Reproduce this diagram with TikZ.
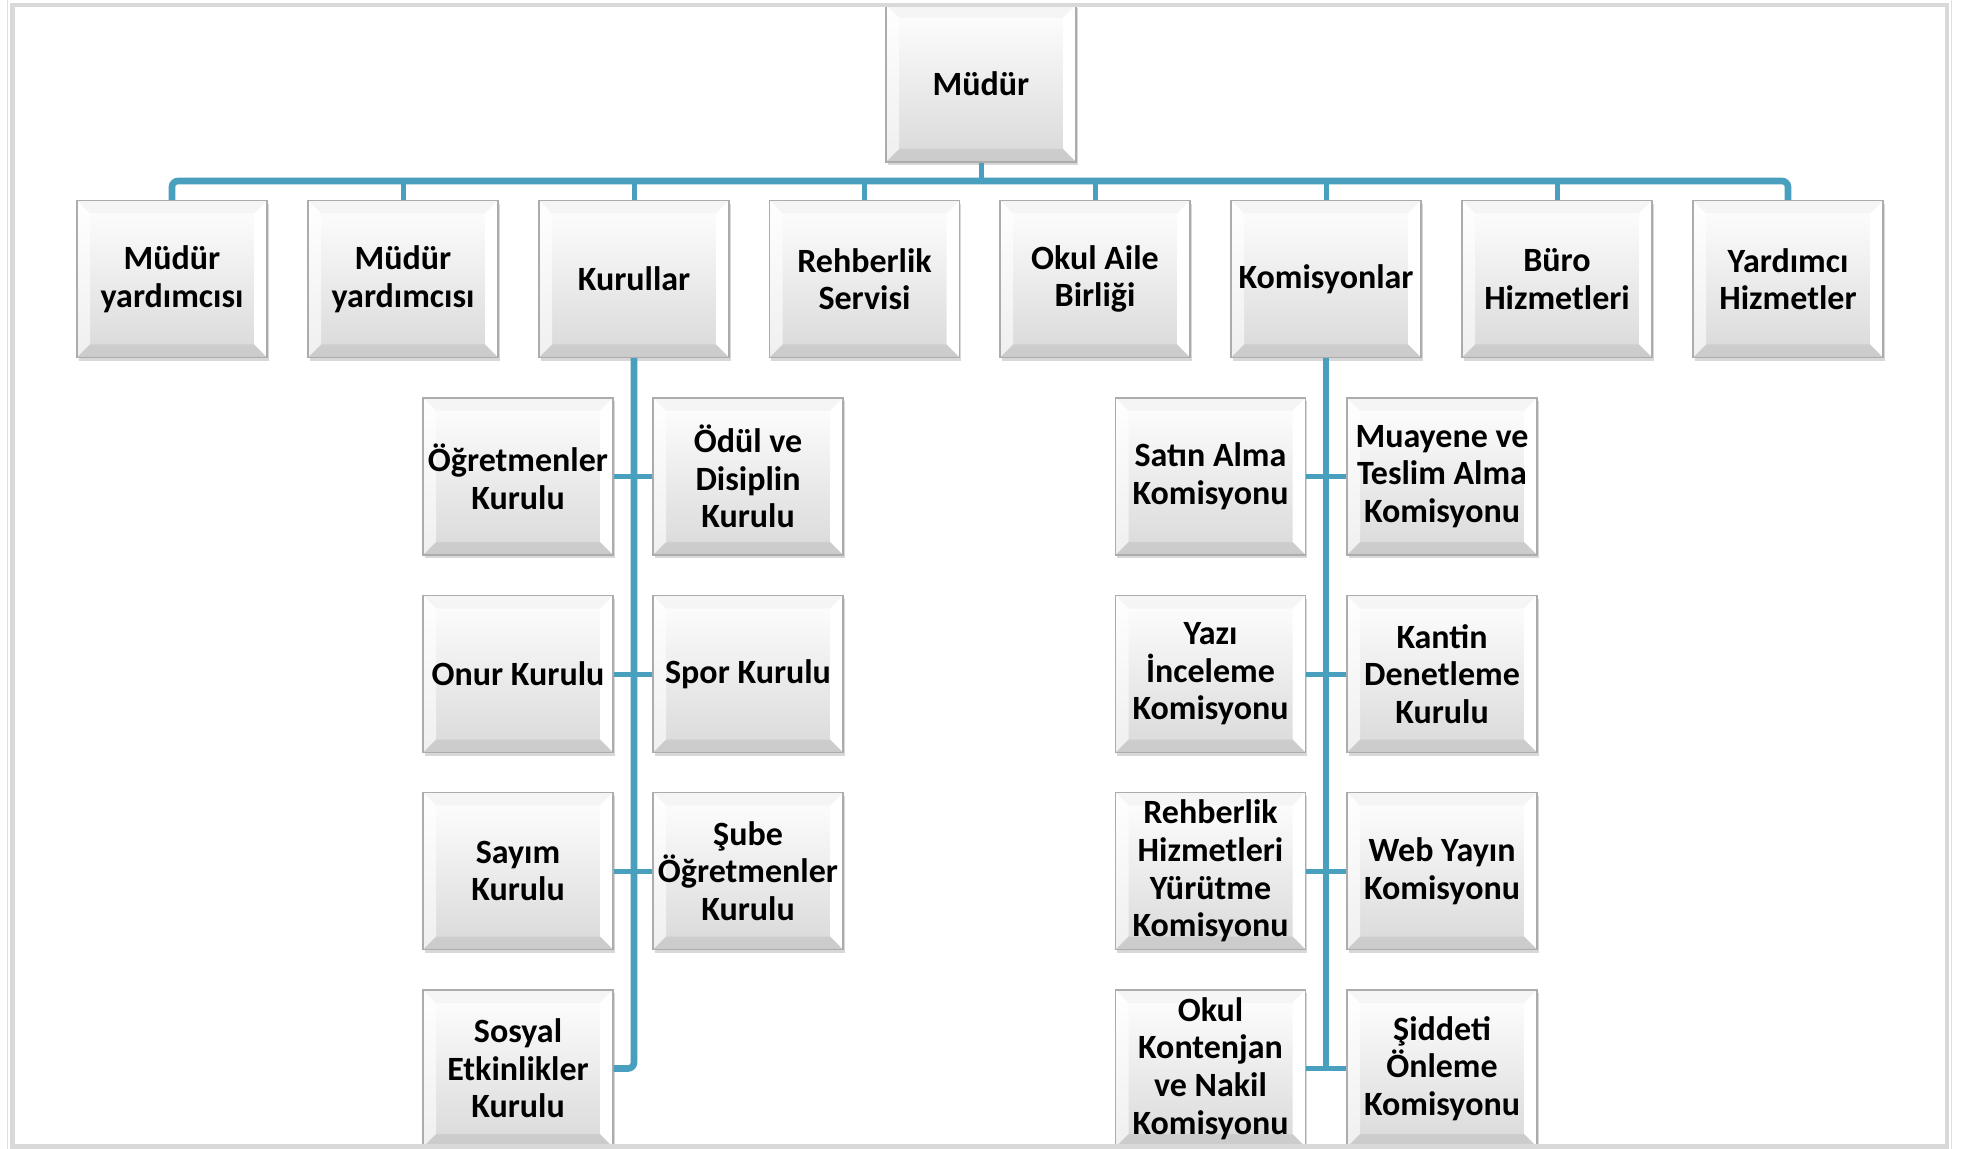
\documentclass[tikz,border=0pt]{standalone}
\usepackage{fontspec}
\setmainfont{Carlito}
\usetikzlibrary{shadows}
\definecolor{linkblue}{RGB}{72,160,190}
\newcommand{\bevw}{6.5pt}

\begin{document}
\begin{tikzpicture}[x=0.5pt,y=-0.5pt,
  unit/.style={draw=gray!65, line width=0.6pt, minimum width=95pt, minimum height=78.5pt,
    inner sep=0pt, align=center, font=\bfseries\fontsize{17}{18.8}\selectfont,
    top color=white, bottom color=gray!30,
    drop shadow={shadow xshift=0.8pt, shadow yshift=-1.6pt, opacity=0.3, fill=gray},
    path picture={
      \coordinate (pa) at (path picture bounding box.north west);
      \coordinate (pb) at (path picture bounding box.north east);
      \coordinate (pc) at (path picture bounding box.south east);
      \coordinate (pd) at (path picture bounding box.south west);
      %% bevel bands: top, left, right, bottom
      \fill[gray!8] (pa) -- (pb) -- ([shift={(-\bevw,-\bevw)}]pb) -- ([shift={(\bevw,-\bevw)}]pa) -- cycle;
      \fill[white, opacity=0.6] (pa) -- ([shift={(\bevw,-\bevw)}]pa) -- ([shift={(\bevw,\bevw)}]pd) -- (pd) -- cycle;
      \fill[white] (pb) -- (pc) -- ([shift={(-\bevw,\bevw)}]pc) -- ([shift={(-\bevw,-\bevw)}]pb) -- cycle;
      \fill[gray!50, opacity=0.5] (pd) -- ([shift={(\bevw,\bevw)}]pd) -- ([shift={(-\bevw,\bevw)}]pc) -- (pc) -- cycle;
    }},
  trunk/.style={draw=linkblue, line width=3.3pt},
  twig/.style={draw=linkblue, line width=2.5pt}]

\fill[white] (0,0) rectangle (1973,1149);
\useasboundingbox (0,0) rectangle (1973,1149);

%% top box
\node[unit] (mudur) at (981,83.5) {Müdür};
\coordinate (busmid) at (981,181);

%% first row under the director
\node[unit] (myard1) at (172,279) {Müdür\\yardımcısı};
\node[unit] (myard2) at (403,279) {Müdür\\yardımcısı};
\node[unit] (kurullar) at (634,279) {Kurullar};
\node[unit] (rehber) at (864.5,279) {Rehberlik\\Servisi};
\node[unit] (okulaile) at (1095,279) {Okul Aile\\Birliği};
\node[unit] (komisyon) at (1326,279) {Komisyonlar};
\node[unit] (buro) at (1557,279) {Büro\\Hizmetleri};
\node[unit] (yardimci) at (1788,279) {Yardımcı\\Hizmetler};

%% boards under Kurullar
\node[unit] (ogrkur) at (518,476.5) {Öğretmenler\\Kurulu};
\node[unit] (odul) at (748,476.5) {Ödül ve\\Disiplin\\Kurulu};
\node[unit] (onur) at (518,674) {Onur Kurulu};
\node[unit] (spor) at (748,674) {Spor Kurulu};
\node[unit] (sayim) at (518,871) {Sayım\\Kurulu};
\node[unit] (sube) at (748,871) {Şube\\Öğretmenler\\Kurulu};
\node[unit] (sosyal) at (518,1068.5) {Sosyal\\Etkinlikler\\Kurulu};

%% commissions under Komisyonlar
\node[unit] (satin) at (1210.5,476.5) {Satın Alma\\Komisyonu};
\node[unit] (muayene) at (1442,476.5) {Muayene ve\\Teslim Alma\\Komisyonu};
\node[unit] (yazi) at (1210.5,674) {Yazı\\İnceleme\\Komisyonu};
\node[unit] (kantin) at (1442,674) {Kantin\\Denetleme\\Kurulu};
\node[unit] (rehyur) at (1210.5,871) {Rehberlik\\Hizmetleri\\Yürütme\\Komisyonu};
\node[unit] (web) at (1442,871) {Web Yayın\\Komisyonu};
\node[unit] (kontenjan) at (1210.5,1068.5) {Okul\\Kontenjan\\ve Nakil\\Komisyonu};
\node[unit] (siddet) at (1442,1068.5) {Şiddeti\\Önleme\\Komisyonu};

%% bus from the director to the first row
\draw[twig] (mudur.south) -- (busmid);
\draw[trunk, rounded corners=3pt] (myard1.north) |- (busmid) -| (yardimci.north);
\foreach \n in {myard2,kurullar,rehber,okulaile,komisyon,buro}
  \draw[twig] (\n.north) -- (\n.north |- busmid);

%% Kurullar branch
\draw[trunk, rounded corners=3pt] (kurullar.south) |- (sosyal.east);
\draw[twig] (ogrkur.east) -- (odul.west);
\draw[twig] (onur.east) -- (spor.west);
\draw[twig] (sayim.east) -- (sube.west);

%% Komisyonlar branch
\draw[trunk] (komisyon.south) -- (komisyon.south |- kontenjan.east);
\draw[twig] (satin.east) -- (muayene.west);
\draw[twig] (yazi.east) -- (kantin.west);
\draw[twig] (rehyur.east) -- (web.west);
\draw[twig] (kontenjan.east) -- (siddet.west);

%% page frame
\draw[gray!30, line width=2.2pt] (12.5,5) rectangle (1947,1146.5);
\draw[gray!25, line width=0.5pt] (7,0) -- (7,1149) (1951,0) -- (1951,1149);

\end{tikzpicture}
\end{document}
